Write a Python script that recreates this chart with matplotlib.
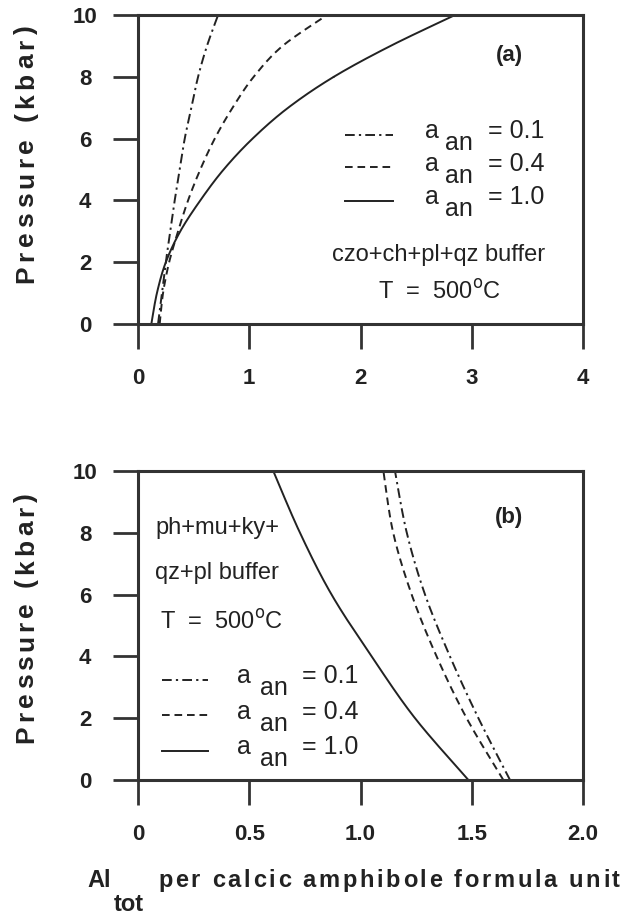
import matplotlib
matplotlib.use("Agg")
import matplotlib.pyplot as plt
import numpy as np

plt.rcParams['font.family'] = ['Liberation Sans', 'DejaVu Sans']
plt.rcParams['lines.scale_dashes'] = False

# ---- data ----
# panel (a): czo+ch+pl+qz buffer, T = 500 C
P_a = [0, 1, 2, 3, 4, 5, 6, 7, 8, 9, 10]
a_an01 = [0.18, 0.215, 0.25, 0.29, 0.33, 0.375, 0.42, 0.48, 0.54, 0.62, 0.72]
a_an04 = [0.195, 0.225, 0.28, 0.36, 0.45, 0.56, 0.69, 0.85, 1.04, 1.30, 1.70]
a_an10 = [0.12, 0.17, 0.25, 0.38, 0.56, 0.77, 1.03, 1.35, 1.76, 2.27, 2.85]

# panel (b): ph+mu+ky+qz+pl buffer, T = 500 C
P_b = [0, 2, 4, 6, 8, 10]
b_an01 = [1.672, 1.53, 1.402, 1.29, 1.208, 1.155]
b_an04 = [1.642, 1.477, 1.342, 1.23, 1.147, 1.103]
b_an10 = [1.485, 1.245, 1.05, 0.87, 0.728, 0.608]

xticks_a = [0, 1, 2, 3, 4]
xticklabels_a = ['0', '1', '2', '3', '4']
xticks_b = [0, 0.5, 1.0, 1.5, 2.0]
xticklabels_b = ['0', '0.5', '1.0', '1.5', '2.0']
yticks = [0, 2, 4, 6, 8, 10]
yticklabels = ['0', '2', '4', '6', '8', '10']
legend_vals = ['0.1', '0.4', '1.0']

INK = '#222222'
W, H = 628, 915
fig = plt.figure(figsize=(W / 100, H / 100), dpi=100)
renderer = fig.canvas.get_renderer()


def fx(px):
    return px / W


def fy(py):
    return 1 - py / H


ax1 = fig.add_axes([fx(138), fy(324), fx(583) - fx(138), fy(15) - fy(324)])
ax2 = fig.add_axes([fx(138), fy(780), fx(583) - fx(138), fy(471) - fy(780)])

dashdot = (0, (7, 3, 1.6, 3))
dashed = (0, (5.5, 3.5))
lw = 1.4


def catmull(xv, yv):
    pts = np.column_stack([np.asarray(xv, float), np.asarray(yv, float)])
    out = []
    n = len(pts)
    for i in range(n - 1):
        p0 = pts[max(i - 1, 0)]
        p1 = pts[i]
        p2 = pts[i + 1]
        p3 = pts[min(i + 2, n - 1)]
        t = np.linspace(0, 1, 40)[:, None]
        seg = 0.5 * ((2 * p1) + (-p0 + p2) * t + (2 * p0 - 5 * p1 + 4 * p2 - p3) * t ** 2
                     + (-p0 + 3 * p1 - 3 * p2 + p3) * t ** 3)
        out.append(seg)
    c = np.vstack(out)
    return c[:, 0], c[:, 1]


for ax, P, series in [(ax1, P_a, (a_an01, a_an04, a_an10)),
                      (ax2, P_b, (b_an01, b_an04, b_an10))]:
    for xv, ls in zip(series, (dashdot, dashed, '-')):
        cx, cy = catmull(xv, P)
        ax.plot(cx, cy, color=INK, lw=lw, linestyle=ls, solid_capstyle='butt')

for ax, xt, xtl, xmax in [(ax1, xticks_a, xticklabels_a, 4), (ax2, xticks_b, xticklabels_b, 2.0)]:
    ax.set_xlim(0, xmax)
    ax.set_ylim(0, 10)
    ax.set_xticks(xt)
    ax.set_xticklabels(xtl, fontweight='bold', fontsize=16, color=INK)
    ax.set_yticks(yticks)
    ax.set_yticklabels(yticklabels, fontweight='bold', fontsize=16, color=INK, ha='center')
    ax.tick_params(direction='out', length=18, width=2.0, color='#333333')
    ax.tick_params(axis='x', pad=14)
    ax.tick_params(axis='y', pad=20)
    for s in ax.spines.values():
        s.set_linewidth(2.2)
        s.set_color('#333333')


def text_width(s, **kw):
    t = fig.text(0, 0, s + '|', **kw)
    w1 = t.get_window_extent(renderer).width
    t.set_text('|')
    w0 = t.get_window_extent(renderer).width
    t.remove()
    return w1 - w0


def spaced_text(x0, y0, s, length, vertical=False, **kw):
    """Draw s with letter spacing so that it spans `length` pixels."""
    nat = text_width(s, **kw)
    n = len(s)
    sp = (length - nat) / (n - 1) if n > 1 else 0
    for i, ch in enumerate(s):
        if ch == ' ':
            continue
        off = text_width(s[:i], **kw) + i * sp if i > 0 else 0
        if vertical:
            fig.text(fx(x0), fy(y0 - off), ch, rotation=90, rotation_mode='anchor',
                     ha='left', va='baseline', **kw)
        else:
            fig.text(fx(x0 + off), fy(y0), ch, ha='left', va='baseline', **kw)


# y labels (letter-spaced)
ylab_kw = dict(fontsize=19, fontweight='bold', color=INK)
spaced_text(33, 283, 'Pressure (kbar)', 258, vertical=True, **ylab_kw)
spaced_text(33, 743, 'Pressure (kbar)', 250, vertical=True, **ylab_kw)

# x label
xlab_kw = dict(fontsize=17, fontweight='bold', color=INK)
fig.text(fx(87), fy(887), 'Al', ha='left', va='baseline', **xlab_kw)
fig.text(fx(114), fy(911), 'tot', ha='left', va='baseline', **xlab_kw)
spaced_text(158, 887, 'per calcic amphibole formula unit', 462, **xlab_kw)

# panel labels
fig.text(fx(509), fy(55), '(a)', fontsize=16, fontweight='bold', ha='center', va='center',
         color=INK)
fig.text(fx(509), fy(517), '(b)', fontsize=16, fontweight='bold', ha='center', va='center',
         color=INK)


def legend_block(x0, x1, line_ys, xa, xan, xeq, rows, dsub):
    for ly, yy, ls, val in zip(line_ys, rows, (dashdot, dashed, '-'), legend_vals):
        fig.add_artist(plt.Line2D([fx(x0), fx(x1)], [fy(ly), fy(ly)], color=INK,
                                  lw=lw, linestyle=ls, transform=fig.transFigure))
        fig.text(fx(xa), fy(yy), 'a', fontsize=18, ha='left', va='center', color=INK)
        fig.text(fx(xan), fy(yy + dsub), 'an', fontsize=18, ha='left', va='center', color=INK)
        fig.text(fx(xeq), fy(yy), '= ' + val, fontsize=18, ha='left', va='center', color=INK)


legend_block(345, 393, [135, 167, 201], 425, 445, 488, [131, 164, 197], 12)
fig.text(fx(439), fy(255), 'czo+ch+pl+qz buffer', fontsize=17, ha='center', va='center',
         color=INK)
fig.text(fx(440), fy(292), r'T  =  500$^{\mathrm{o}}$C', fontsize=17, ha='center',
         va='center', color=INK)

fig.text(fx(155), fy(528), 'ph+mu+ky+', fontsize=17, ha='left', va='center', color=INK)
fig.text(fx(155), fy(573), 'qz+pl buffer', fontsize=17, ha='left', va='center', color=INK)
fig.text(fx(160), fy(622), r'T  =  500$^{\mathrm{o}}$C', fontsize=17, ha='left',
         va='center', color=INK)
legend_block(162, 208, [680, 715, 751], 237, 260, 302, [676, 712, 747], 12)

fig.savefig('out.png', dpi=100, facecolor='white')
